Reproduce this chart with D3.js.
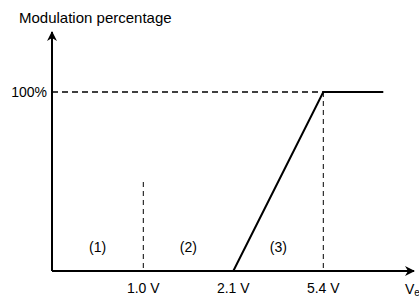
<!DOCTYPE html>
<html>
<head>
<meta charset="utf-8">
<script src="https://cdn.jsdelivr.net/npm/d3@7"></script>
<style>
  body { margin: 0; background: #fff; }
  text { font-family: "Liberation Sans", Arial, sans-serif; fill: #000; }
</style>
</head>
<body>
<div id="chart"></div>
<script>
// data
const xTicks = [1.0, 2.1, 5.4];
const tickLabels = ["1.0 V", "2.1 V", "5.4 V"];
const curveX = [2.1, 5.4, 7.6];
const curveY = [0, 100, 100];
const regionLabels = ["(1)", "(2)", "(3)"];
const regionX = [0.5, 1.55, 3.75];

const width = 419, height = 297;

const svg = d3.select("#chart").append("svg")
    .attr("width", width)
    .attr("height", height);

// x axis is not linear: the three thresholds are spaced evenly
const x = d3.scaleLinear()
    .domain([0, 1.0, 2.1, 5.4])
    .range([52, 143.3, 233.3, 323.3]);
const y = d3.scaleLinear().domain([0, 100]).range([271, 92]);

const defs = svg.append("defs");
defs.append("marker")
    .attr("id", "arrow")
    .attr("viewBox", "0 0 10 10")
    .attr("refX", 9).attr("refY", 5)
    .attr("markerWidth", 5).attr("markerHeight", 5)
    .attr("markerUnits", "strokeWidth")
    .attr("orient", "auto")
    .append("path")
    .attr("d", "M0,0 L10,5 L0,10 L3,5 Z")
    .attr("fill", "#000");

// dashed guides
svg.append("line")
    .attr("x1", x(0)).attr("x2", x(5.4))
    .attr("y1", y(100)).attr("y2", y(100))
    .attr("stroke", "#000").attr("stroke-width", 1.5)
    .attr("stroke-dasharray", "6,4");

svg.append("line")
    .attr("x1", x(1.0)).attr("x2", x(1.0))
    .attr("y1", 182).attr("y2", y(0))
    .attr("stroke", "#000").attr("stroke-width", 1)
    .attr("stroke-dasharray", "5,4");

svg.append("line")
    .attr("x1", x(5.4)).attr("x2", x(5.4))
    .attr("y1", y(100)).attr("y2", y(0))
    .attr("stroke", "#000").attr("stroke-width", 1)
    .attr("stroke-dasharray", "5,4");

// curve
const line = d3.line().x(d => x(d[0])).y(d => y(d[1]));
svg.append("path")
    .datum(d3.zip(curveX, curveY))
    .attr("d", line)
    .attr("fill", "none")
    .attr("stroke", "#000")
    .attr("stroke-width", 2);

// axes
svg.append("line")
    .attr("x1", x(0)).attr("y1", y(0))
    .attr("x2", x(0)).attr("y2", 32)
    .attr("stroke", "#000").attr("stroke-width", 2)
    .attr("marker-end", "url(#arrow)");

svg.append("line")
    .attr("x1", x(0)).attr("y1", y(0))
    .attr("x2", 414).attr("y2", y(0))
    .attr("stroke", "#000").attr("stroke-width", 2)
    .attr("marker-end", "url(#arrow)");

// labels
svg.selectAll(".tick")
    .data(xTicks)
    .enter()
    .append("text")
    .attr("x", d => x(d))
    .attr("y", 292.5)
    .attr("text-anchor", "middle")
    .style("font-size", "14px")
    .text((d, i) => tickLabels[i]);

svg.selectAll(".region")
    .data(regionX)
    .enter()
    .append("text")
    .attr("x", d => x(d))
    .attr("y", 252)
    .attr("text-anchor", "middle")
    .style("font-size", "14px")
    .text((d, i) => regionLabels[i]);

svg.append("text")
    .attr("x", 47).attr("y", 97)
    .attr("text-anchor", "end")
    .style("font-size", "14px")
    .text("100%");

svg.append("text")
    .attr("x", 19).attr("y", 22.5)
    .style("font-size", "15px")
    .text("Modulation percentage");

const vlab = svg.append("text")
    .attr("x", 405).attr("y", 294)
    .style("font-size", "14px");
vlab.append("tspan").text("V");
vlab.append("tspan").attr("dy", 2).style("font-size", "10px").text("e");
</script>
</body>
</html>
